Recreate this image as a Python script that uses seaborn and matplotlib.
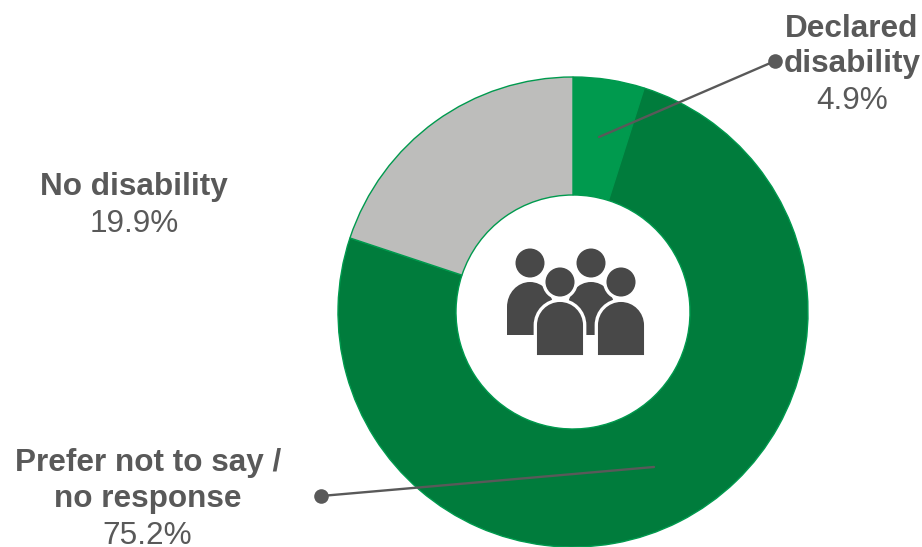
import matplotlib
matplotlib.use("Agg")
import matplotlib.pyplot as plt
import seaborn as sns
from matplotlib.patches import Circle, PathPatch
from matplotlib.path import Path

categories = ["Declared disability", "Prefer not to say / no response", "No disability"]
shares = [4.9, 75.2, 19.9]
colors = ["#009A4E", "#007C3C", "#BDBDBB"]
TEXT = "#595959"
ICON = "#484848"

sns.set_theme(style="white")
plt.rcParams["font.family"] = ["Liberation Sans", "DejaVu Sans"]

fig = plt.figure(figsize=(9.22, 5.47), dpi=100, facecolor="white")
ax = fig.add_axes([0, 0, 1, 1])

# Ring, clockwise from twelve o'clock (the y axis runs downward here)
ax.pie(
    shares,
    colors=colors,
    startangle=-90,
    counterclock=True,
    center=(573, 312),
    radius=235,
    wedgeprops=dict(width=118, edgecolor="#009A4E", linewidth=1.0),
    frame=True,
)
ax.set_xlim(0, 922)
ax.set_ylim(547, 0)
ax.set_aspect("equal")
ax.axis("off")


def person(cx, head_y, top, bottom, halfwidth, outline):
    """One figure of the group icon: a round head over a domed body."""
    pad = 1.7 if outline else 0
    top -= pad
    bottom += pad
    halfwidth += pad
    dome = 25
    k = 0.5523
    verts = [
        (cx - halfwidth, bottom),
        (cx - halfwidth, top + dome),
        (cx - halfwidth, top + dome * (1 - k)),
        (cx - halfwidth * k, top),
        (cx, top),
        (cx + halfwidth * k, top),
        (cx + halfwidth, top + dome * (1 - k)),
        (cx + halfwidth, top + dome),
        (cx + halfwidth, bottom),
        (cx - halfwidth, bottom),
    ]
    codes = [Path.MOVETO, Path.LINETO, Path.CURVE4, Path.CURVE4, Path.CURVE4,
             Path.CURVE4, Path.CURVE4, Path.CURVE4, Path.LINETO, Path.CLOSEPOLY]
    edge = "white" if outline else "none"
    lw = 2.4 if outline else 0
    ax.add_patch(PathPatch(Path(verts, codes), facecolor=ICON, edgecolor=edge, lw=lw, zorder=5))
    ax.add_patch(Circle((cx, head_y), 14.5 + pad, facecolor=ICON, edgecolor=edge, lw=lw, zorder=5))


person(530, 263, 282, 335, 23, False)
person(591, 263, 282, 335, 23, False)
person(560, 282, 302, 355, 23, True)
person(621, 282, 302, 355, 23, True)

# Leader lines with a round end
leaders = [((599, 137), (775, 61)), ((654, 467), (321, 496))]
for start, end in leaders:
    ax.plot([start[0], end[0]], [start[1], end[1]], color=TEXT, lw=1.7, zorder=6)
    ax.plot(*end, "o", color=TEXT, ms=10.5, mew=0, zorder=6)

# Slice captions
bold = dict(color=TEXT, fontsize=22.7, fontweight="bold", ha="center", va="baseline")
plain = dict(color=TEXT, fontsize=22.7, ha="center", va="baseline")
ax.text(852, 37, "Declared", **bold)
ax.text(852, 72, "disability", **bold)
ax.text(852, 109, "4.9%", **plain)
ax.text(134, 195, "No disability", **bold)
ax.text(134, 232, "19.9%", **plain)
ax.text(148, 471, "Prefer not to say /", **bold)
ax.text(148, 507, "no response", **bold)
ax.text(147, 544, "75.2%", **plain)

fig.savefig("out.png", dpi=100, facecolor="white")
